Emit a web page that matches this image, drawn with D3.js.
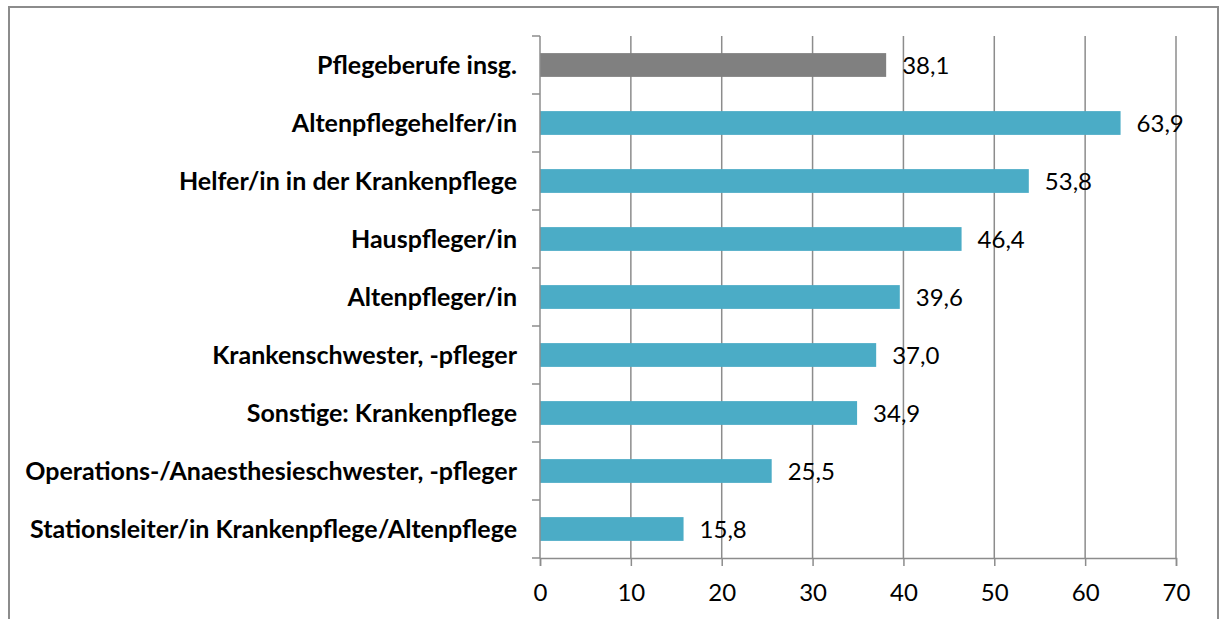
<!DOCTYPE html>
<html>
<head>
<meta charset="utf-8">
<title>Pflegeberufe</title>
<script src="https://d3js.org/d3.v7.min.js"></script>
<style>
  body { margin: 0; background: #fff; }
  text { font-family: Lato, "Open Sans", sans-serif; }
</style>
</head>
<body>
<svg id="chart"></svg>
<script>
// categories, top to bottom
var categories = [
  "Pflegeberufe insg.",
  "Altenpflegehelfer/in",
  "Helfer/in in der Krankenpflege",
  "Hauspfleger/in",
  "Altenpfleger/in",
  "Krankenschwester, -pfleger",
  "Sonstige: Krankenpflege",
  "Operations-/Anaesthesieschwester, -pfleger",
  "Stationsleiter/in Krankenpflege/Altenpflege"
];
var values = [38.1, 63.9, 53.8, 46.4, 39.6, 37.0, 34.9, 25.5, 15.8];
var barColors = ["#808080", "#4bacc6", "#4bacc6", "#4bacc6", "#4bacc6", "#4bacc6", "#4bacc6", "#4bacc6", "#4bacc6"];
var xTicks = [0, 10, 20, 30, 40, 50, 60, 70];

var W = 1224, H = 619;
var margin = {top: 36, right: 48, bottom: 61, left: 540};
var width = 1176 - margin.left,
    height = 558 - margin.top;

var svg = d3.select("#chart").attr("width", W).attr("height", H);

// outer frame (bottom edge is cut off)
svg.append("path")
  .attr("d", "M9,625 V7 H1218 V625")
  .attr("fill", "none")
  .attr("stroke", "#8c8c8c")
  .attr("stroke-width", 2);

var g = svg.append("g")
  .attr("transform", "translate(" + margin.left + "," + margin.top + ")");

var x = d3.scaleLinear().domain([0, 70]).range([0, width]);
var y = d3.scaleBand().domain(categories).range([0, height]).padding(0);
var barH = y.step() * 0.41;

// gridlines
g.selectAll("line.grid")
  .data(xTicks.slice(1))
  .enter().append("line")
  .attr("class", "grid")
  .attr("x1", function(d) { return x(d); })
  .attr("x2", function(d) { return x(d); })
  .attr("y1", 0)
  .attr("y2", height)
  .attr("stroke", "#8c8c8c")
  .attr("stroke-width", 1.5);

// bars
g.selectAll("rect.bar")
  .data(values)
  .enter().append("rect")
  .attr("class", "bar")
  .attr("x", x(0))
  .attr("y", function(d, i) { return y(categories[i]) + (y.step() - barH) / 2; })
  .attr("width", function(d) { return x(d) - x(0); })
  .attr("height", barH)
  .attr("fill", function(d, i) { return barColors[i]; });

// value labels
g.selectAll("text.val")
  .data(values)
  .enter().append("text")
  .attr("class", "val")
  .attr("x", function(d) { return x(d) + 16; })
  .attr("y", function(d, i) { return y(categories[i]) + y.step() / 2; })
  .attr("dy", "0.36em")
  .attr("font-size", 24)
  .attr("fill", "#000")
  .text(function(d) { return d.toFixed(1).replace(".", ","); });

// category axis
var yAxis = g.append("g");
yAxis.append("line")
  .attr("x1", 0).attr("x2", 0).attr("y1", 0).attr("y2", height)
  .attr("stroke", "#8c8c8c").attr("stroke-width", 1.5);
var bounds = categories.map(function(c) { return y(c); }).concat([height]);
yAxis.selectAll("line.tk")
  .data(bounds)
  .enter().append("line")
  .attr("class", "tk")
  .attr("x1", -8).attr("x2", 0)
  .attr("y1", function(d) { return d; })
  .attr("y2", function(d) { return d; })
  .attr("stroke", "#8c8c8c").attr("stroke-width", 1.5);
yAxis.selectAll("text")
  .data(categories)
  .enter().append("text")
  .attr("x", -23)
  .attr("y", function(d) { return y(d) + y.step() / 2; })
  .attr("dy", "0.36em")
  .attr("text-anchor", "end")
  .attr("font-size", 25)
  .attr("font-weight", "bold")
  .attr("fill", "#000")
  .text(function(d) { return d; });

// value axis
var xAxis = g.append("g")
  .attr("transform", "translate(0," + height + ")")
  .call(d3.axisBottom(x).tickValues(xTicks).tickSize(8).tickPadding(18)
        .tickFormat(function(d) { return d; }));
xAxis.select(".domain").attr("stroke", "#8c8c8c").attr("stroke-width", 1.5);
xAxis.selectAll(".tick line").attr("stroke", "#8c8c8c").attr("stroke-width", 1.5);
xAxis.selectAll(".tick text")
  .attr("font-size", 24)
  .attr("font-family", "Lato, 'Open Sans', sans-serif")
  .attr("fill", "#000");
</script>
</body>
</html>
